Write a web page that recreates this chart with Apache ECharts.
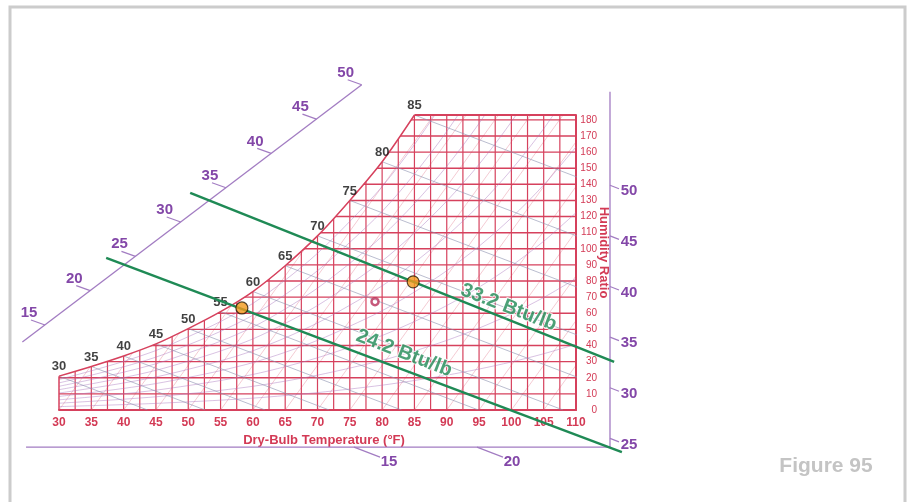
<!DOCTYPE html>
<html lang="en">
<head>
<meta charset="utf-8"/>
<title>Psychrometric chart</title>
<script src="https://cdn.jsdelivr.net/npm/echarts@6/dist/echarts.min.js"></script>
<style>
  html, body { margin: 0; padding: 0; background: #fff; }
  #chart { width: 907px; height: 502px; }
</style>
</head>
<body>
<div id="chart"></div>
<script>
  // saturation curve: dry-bulb (°F) -> humidity ratio (grains/lb)
  var satTemps = [30, 35, 40, 45, 50, 55, 60, 65, 70, 75, 80, 85];
  var satHumidity = [21, 27, 33.5, 41, 50.5, 61, 73.5, 89.5, 108, 130, 154, 183];
  // saturation above the top of the grid, only used by the RH curves
  var satTempsHigh = [90, 95, 100, 105, 110];
  var satHumidityHigh = [216, 254, 298, 349, 408];
  var rhLevels = [10, 20, 30, 40, 50, 60, 70, 80, 90];

  // wet-bulb lines start on the saturation curve and reach W = 0 at these dry-bulb temps
  var wetBulbTemps = [30, 35, 40, 45, 50, 55, 60, 65, 70, 75, 80, 85];
  var wetBulbEnds = [43.7, 52.6, 61.9, 71.8, 83, 94.9, 108, 123.5, 140.6, 160, 180.7, 204.6];

  // faint steep lines: start at W = 0 and end at W = 183
  var steepStarts = [30, 35, 40, 45, 50, 55, 60, 65, 70, 75, 80, 85, 90, 95, 100, 105];
  var steepEnds = [63, 68, 73, 78, 83, 88, 93, 98, 103, 108, 113, 118, 123, 128, 133, 138];

  // the two constant enthalpy lines (green)
  var enthalpyNames = ['24.2 Btu/lb', '33.2 Btu/lb'];
  var enthalpyLow = [[37.3, 94.4], [117.1, -26.1]];
  var enthalpyHigh = [[50.3, 134.7], [115.9, 29.8]];
  var statePoints = [[58.3, 63.3], [84.8, 79.5]];
  var markedPoint = [[78.9, 67.2]];

  // enthalpy scale tick values
  var hDiagTicks = [15, 20, 25, 30, 35, 40, 45, 50];
  var hRightTicks = [25, 30, 35, 40, 45, 50];
  var hBottomTicks = [15, 20];

  var RED = '#d6415d';
  var RED_TEXT = '#d33a55';
  var PURPLE = '#8347a8';
  var PURPLE_LINE = '#a27cc2';
  var GREEN = '#1f8a55';
  var FONT = '"Liberation Sans", Arial, sans-serif';

  // where each enthalpy scale sits, in chart coordinates (T, W)
  var diagScale = { h0: 15, p0: [27.83, 52.76], h1: 50, p1: [76.84, 201.74], tick: [-14, -5], label: [-16, -12] };
  var rightScale = { h0: 25, p0: [115.26, -17.6], h1: 50, p1: [115.26, 139.4], tick: [9, 3.5], label: [19, 6] };
  var bottomScale = { h0: 15, p0: [75.65, -23], h1: 20, p1: [94.68, -23], tick: [26, 10], label: [35, 15] };

  function scalePos(s, h) {
    var t = (h - s.h0) / (s.h1 - s.h0);
    return [s.p0[0] + t * (s.p1[0] - s.p0[0]), s.p0[1] + t * (s.p1[1] - s.p0[1])];
  }

  // ordinary line, clipped to the grid
  function plainLine(data, color, width, z) {
    return {
      type: 'line', data: data, symbol: 'none', silent: true, z: z,
      lineStyle: { color: color, width: width }
    };
  }

  // polyline that may run outside the grid
  function freeLine(points, color, width, z) {
    return {
      type: 'custom', clip: false, silent: true, z: z,
      data: [[0]],
      renderItem: function (params, api) {
        return {
          type: 'polyline',
          shape: { points: points.map(function (p) { return api.coord(p); }) },
          style: { stroke: color, lineWidth: width, fill: null }
        };
      }
    };
  }

  function scaleTicks(s, ticks) {
    return {
      type: 'custom', clip: false, silent: true, z: 4,
      data: ticks.map(function (h) { return [h]; }),
      renderItem: function (params, api) {
        var h = api.value(0);
        var p = api.coord(scalePos(s, h));
        return {
          type: 'group',
          children: [
            {
              type: 'line',
              shape: { x1: p[0], y1: p[1], x2: p[0] + s.tick[0], y2: p[1] + s.tick[1] },
              style: { stroke: PURPLE_LINE, lineWidth: 1.2 }
            },
            {
              type: 'text', x: p[0] + s.label[0], y: p[1] + s.label[1],
              style: { text: String(h), fill: PURPLE, font: 'bold 15px ' + FONT, align: 'center', verticalAlign: 'middle' }
            }
          ]
        };
      }
    };
  }

  var series = [];

  // red grid: every 2.5 °F and every 10 grains
  for (var t = 32.5; t <= 110; t += 2.5) {
    series.push(plainLine([[t, 0], [t, 183]], RED, 1.2, 1));
  }
  for (var w = 10; w <= 180; w += 10) {
    series.push(plainLine([[30, w], [110, w]], RED, 1.4, 1));
  }

  // faint steep lines
  steepStarts.forEach(function (t, i) {
    series.push(plainLine([[t, 0], [steepEnds[i], 183]], 'rgba(214,65,93,0.35)', 0.8, 2));
  });

  // relative humidity curves
  var allTemps = satTemps.concat(satTempsHigh);
  var allSat = satHumidity.concat(satHumidityHigh);
  rhLevels.forEach(function (rh) {
    var s = plainLine(allTemps.map(function (t, i) { return [t, allSat[i] * rh / 100]; }), 'rgba(170,120,190,0.45)', 1, 2);
    s.smooth = 0.3;
    series.push(s);
  });

  // wet-bulb lines
  wetBulbTemps.forEach(function (t, i) {
    series.push(plainLine([[t, satHumidity[i]], [wetBulbEnds[i], 0]], 'rgba(140,145,175,0.6)', 1, 2));
  });

  // saturation curve, with white fill above it to hide the grid
  series.push({
    type: 'line', z: 3, silent: true, symbol: 'none', smooth: 0.3,
    data: satTemps.map(function (t, i) { return [t, satHumidity[i]]; }),
    lineStyle: { color: RED, width: 1.5 },
    areaStyle: { color: '#ffffff', opacity: 1, origin: 'end' }
  });
  series.push(freeLine([[85, 183], [110, 183]], RED, 2, 3));
  series.push(freeLine([[30, 0], [30, 21]], RED, 1.5, 3));

  // wet-bulb temperature labels along the saturation curve
  series.push({
    type: 'scatter', z: 4, silent: true, symbolSize: 0,
    data: satTemps.map(function (t, i) { return [t, satHumidity[i]]; }),
    label: {
      show: true, position: 'top', distance: 3,
      formatter: function (p) { return p.value[0]; },
      color: '#111', fontWeight: 'bold', fontSize: 13, fontFamily: FONT
    }
  });

  // enthalpy scales
  series.push(freeLine([scalePos(diagScale, 12.5), scalePos(diagScale, 50)], PURPLE_LINE, 1.3, 4));
  series.push(freeLine([[115.26, 197.4], [115.26, -23], [24.9, -23]], PURPLE_LINE, 1.3, 4));
  series.push(scaleTicks(diagScale, hDiagTicks));
  series.push(scaleTicks(rightScale, hRightTicks));
  series.push(scaleTicks(bottomScale, hBottomTicks));

  // constant enthalpy lines
  series.push(freeLine(enthalpyLow, GREEN, 2.5, 5));
  series.push(freeLine(enthalpyHigh, GREEN, 2.5, 5));
  series.push({
    type: 'scatter', z: 6, silent: true, symbolSize: 0,
    data: [
      { name: enthalpyNames[0], value: [83.4, 35.2] },
      { name: enthalpyNames[1], value: [99.6, 63.6] }
    ],
    label: {
      show: true, position: 'inside', rotate: -21,
      formatter: '{b}', color: GREEN, fontSize: 20, fontWeight: 'bold', fontFamily: FONT,
      textBorderColor: '#fff', textBorderWidth: 2
    }
  });

  // state points
  series.push({
    type: 'scatter', z: 7, silent: true, symbol: 'circle', symbolSize: 12,
    data: statePoints,
    itemStyle: { color: '#f39a1c', borderColor: '#2a1d08', borderWidth: 1.2 }
  });
  series.push({
    type: 'scatter', z: 7, silent: true, symbol: 'circle', symbolSize: 7,
    data: markedPoint,
    itemStyle: { color: 'rgba(255,255,255,0.6)', borderColor: '#b8305a', borderWidth: 2.5 }
  });

  var chart = echarts.init(document.getElementById('chart'));
  chart.setOption({
    animation: false,
    backgroundColor: '#ffffff',
    grid: { left: 59, right: 331, top: 115, bottom: 92 },
    xAxis: {
      type: 'value', min: 30, max: 110, interval: 5,
      axisLine: { show: true, lineStyle: { color: RED, width: 2 } },
      axisTick: { show: false },
      axisLabel: { color: RED_TEXT, fontSize: 12, fontWeight: 'bold', fontFamily: FONT, margin: 7 },
      splitLine: { show: false }
    },
    yAxis: {
      type: 'value', position: 'right', min: 0, max: 183, interval: 10,
      axisLine: { show: true, lineStyle: { color: RED, width: 2 } },
      axisTick: { show: false },
      axisLabel: {
        color: RED_TEXT, fontSize: 10, fontFamily: FONT, margin: 21, align: 'right',
        formatter: function (v) { return v % 10 === 0 ? v : ''; }
      },
      splitLine: { show: false }
    },
    graphic: [
      { type: 'rect', shape: { x: 10, y: 7, width: 895, height: 520 }, style: { fill: 'none', stroke: '#cccccc', lineWidth: 3 }, z: 100 },
      { type: 'text', x: 826, y: 466, style: { text: 'Figure 95', fill: '#c4c4c4', font: 'bold 21px ' + FONT, align: 'center', verticalAlign: 'middle' } },
      { type: 'text', x: 148, y: 192, rotation: 0.68, style: { text: 'Enthalpy (Btu/lb)', fill: '#9659bb', font: 'bold 12.5px ' + FONT, align: 'center', verticalAlign: 'middle' } },
      { type: 'text', x: 234, y: 247, rotation: 0.668, style: { text: 'Wet-Bulb Temperature (°F)', fill: '#111', font: 'bold 13px ' + FONT, align: 'center', verticalAlign: 'middle' } },
      { type: 'text', x: 603.5, y: 252.5, rotation: -Math.PI / 2, style: { text: 'Humidity Ratio', fill: RED_TEXT, font: 'bold 13px ' + FONT, align: 'center', verticalAlign: 'middle' } },
      { type: 'text', x: 324, y: 440, style: { text: 'Dry-Bulb Temperature (°F)', fill: RED_TEXT, font: 'bold 13px ' + FONT, align: 'center', verticalAlign: 'middle' } }
    ],
    series: series
  });
</script>
</body>
</html>
